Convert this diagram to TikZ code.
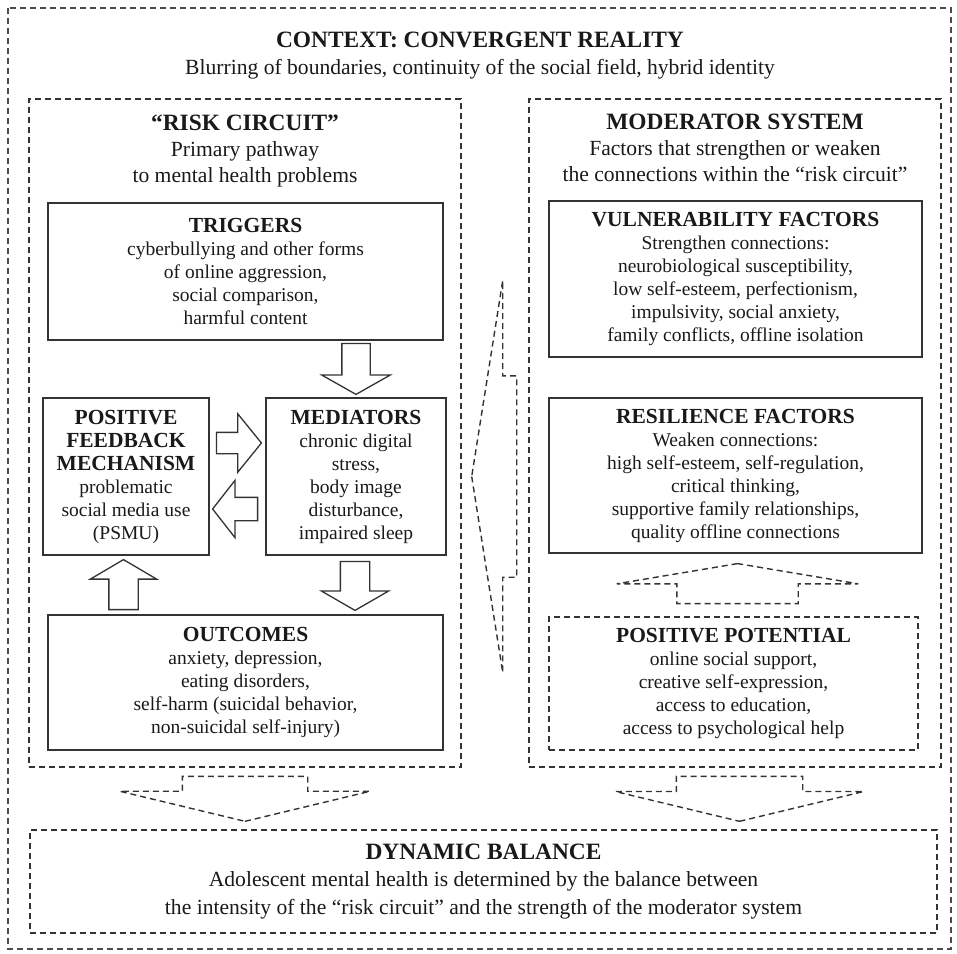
\documentclass[tikz,border=0pt]{standalone}
\usepackage{fontspec}
\setmainfont{Liberation Serif}
\usetikzlibrary{shapes.arrows,calc}

\newcommand{\paneltitle}[1]{{\fontsize{23.4}{26}\selectfont\bfseries #1}}
\newcommand{\boxhead}[1]{{\fontsize{21.5}{23}\selectfont\bfseries #1}}

\begin{document}
\begin{tikzpicture}[x=1pt, y=-1pt, color=black!80, line width=1.2pt,
      every node/.append style={align=center, inner sep=0pt, text=black!90},
      frame/.style={draw, dash pattern=on 6pt off 4pt},
      heading/.style={anchor=north, font=\fontsize{21.6}{26}\selectfont},
      hollow/.style={draw, single arrow, line width=1.3pt, text height=#1, text depth=0pt, anchor=tail}]
    \tikzstyle{box} = [draw, line width=1.5pt, font=\fontsize{19.5}{23}\selectfont]
    \tikzstyle{ghost} = [frame, line width=1.4pt]
    \useasboundingbox (0,0) rectangle (957,953);
    \draw[frame, black!70] (8,8) rectangle (951,949);
    \node (ctx) [heading] at (480,31.5) {\paneltitle{CONTEXT: CONVERGENT REALITY}\\[1pt]
      Blurring of boundaries, continuity of the social field, hybrid identity};
    % two panels
    \node (risk) [frame, minimum width=432, minimum height=668] at (245,433) {};
    \node (mod) [frame, minimum width=412, minimum height=668] at (735,433) {};
    \node (riskhead) [heading] at ($(risk.north)+(0,15.5)$) {\paneltitle{“RISK CIRCUIT”}\\Primary pathway\\to mental health problems};
    \node (modhead) [heading] at ($(mod.north)+(0,15)$) {\paneltitle{MODERATOR SYSTEM}\\Factors that strengthen or weaken\\the connections within the “risk circuit”};
    % risk circuit
    \node (trig) [box, minimum width=395, minimum height=137] at (245.5,271.5)
      {\boxhead{TRIGGERS}\\cyberbullying and other forms\\of online aggression,\\social comparison,\\harmful content};
    \node (pfm) [box, minimum width=166, minimum height=157] at (126,476.5)
      {\boxhead{POSITIVE}\\\boxhead{FEEDBACK}\\\boxhead{MECHANISM}\\problematic\\social media use\\(PSMU)};
    \node (med) [box, minimum width=180, minimum height=157] at (356,476.5)
      {\boxhead{MEDIATORS}\\chronic digital\\stress,\\body image\\disturbance,\\impaired sleep};
    \node (outc) [box, minimum width=395, minimum height=135] at (245.5,682.5)
      {\boxhead{OUTCOMES}\\anxiety, depression,\\eating disorders,\\self-harm (suicidal behavior,\\non-suicidal self-injury)};
    \node (t2m) [hollow=27pt, minimum height=51pt, minimum width=67pt, single arrow head extend=20pt,
      single arrow tip angle=121, rotate=-90] at ($(trig.south -| med.north)+(0,2)$) {};
    \node (m2o) [hollow=28pt, minimum height=49pt, minimum width=66pt, single arrow head extend=19pt,
      single arrow tip angle=120, rotate=-90] at ($(med.south)+(-1,5)$) {};
    \node (o2p) [hollow=28pt, minimum height=50pt, minimum width=65pt, single arrow head extend=18.5pt,
      single arrow tip angle=119, rotate=90] at ($(outc.north -| pfm.south)+(-2.5,-4)$) {};
    \node (p2m) [hollow=20pt, minimum height=45pt, minimum width=57pt, single arrow head extend=18.5pt,
      single arrow tip angle=102, rotate=0] at ($(pfm.east)+(6,-33.5)$) {};
    \node (m2p) [hollow=22pt, minimum height=45pt, minimum width=56pt, single arrow head extend=17pt,
      single arrow tip angle=104, rotate=180] at ($(med.west)+(-7,32.5)$) {};
    % moderator system
    \node (vuln) [box, minimum width=373, minimum height=156] at (735.5,279)
      {\boxhead{VULNERABILITY FACTORS}\\Strengthen connections:\\neurobiological susceptibility,\\low self-esteem, perfectionism,\\impulsivity, social anxiety,\\family conflicts, offline isolation};
    \node (resil) [box, minimum width=373, minimum height=155] at (735.5,475.5)
      {\boxhead{RESILIENCE FACTORS}\\Weaken connections:\\high self-esteem, self-regulation,\\critical thinking,\\supportive family relationships,\\quality offline connections};
    \node (pospot) [box, ghost, minimum width=369, minimum height=133] at (733.5,683.5)
      {\boxhead{POSITIVE POTENTIAL}\\online social support,\\creative self-expression,\\access to education,\\access to psychological help};
    \node (p2r) [hollow=120pt, ghost, minimum height=40pt, minimum width=240pt, single arrow head extend=60pt,
      single arrow tip angle=161, rotate=90] at ($(pospot.north)+(4,-12)$) {};
    \node (mod2risk) [hollow=200pt, ghost, minimum height=45pt, minimum width=391pt, single arrow head extend=95.5pt,
      single arrow tip angle=162, rotate=180] at ($(mod.west |- med.east)+(-11,0)$) {};
    % balance
    \node (bal) [ghost, minimum width=907, minimum height=103, font=\fontsize{21.6}{27.5}\selectfont] at (483.5,881.5)
      {\paneltitle{DYNAMIC BALANCE}\\Adolescent mental health is determined by the balance between\\the intensity of the “risk circuit” and the strength of the moderator system};
    \node (r2b) [hollow=124pt, ghost, minimum height=45pt, minimum width=249pt, single arrow head extend=62.5pt,
      single arrow tip angle=153, rotate=-90] at ($(risk.south)+(0,8)$) {};
    \node (s2b) [hollow=125pt, ghost, minimum height=45pt, minimum width=247pt, single arrow head extend=61pt,
      single arrow tip angle=153, rotate=-90] at ($(mod.south)+(4.5,8)$) {};
\end{tikzpicture}
\end{document}
